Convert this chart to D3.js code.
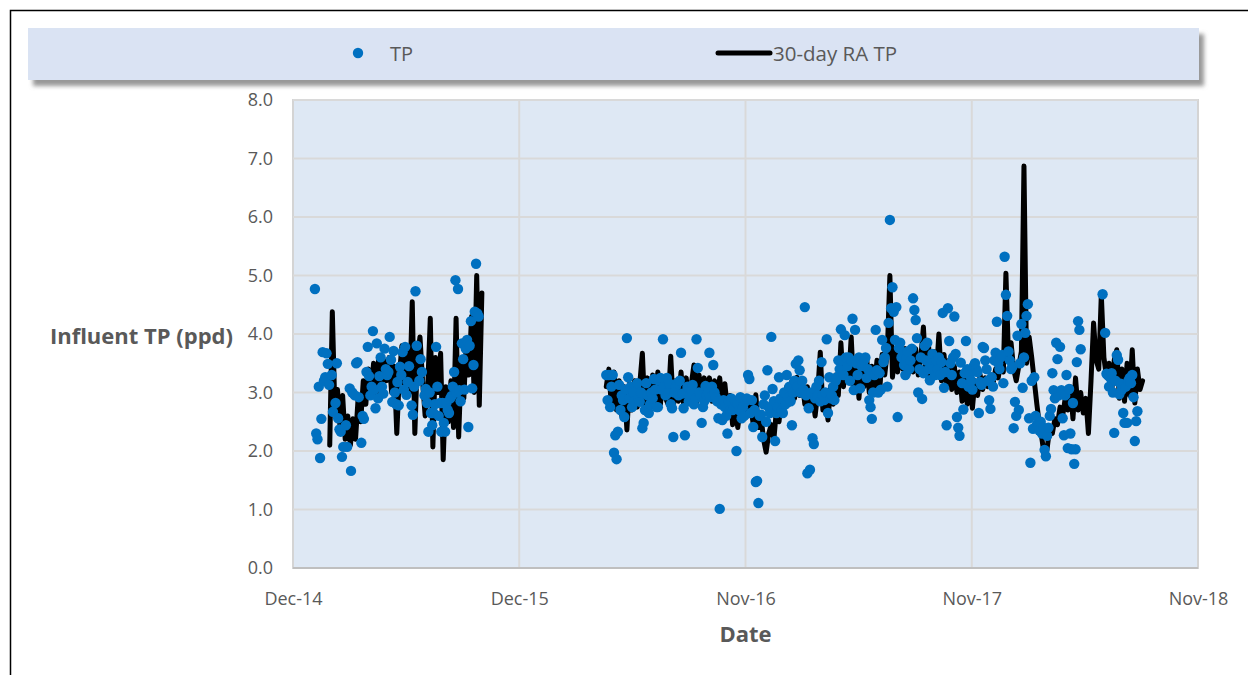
<!DOCTYPE html>
<head>
    <meta charset="utf-8">
    <script src="https://d3js.org/d3.v7.min.js"></script>
    <style>
        body {
            margin: 0;
            background: white;
        }
        text {
            font-family: "Open Sans", "Liberation Sans", sans-serif;
            fill: #595959;
        }
    </style>
</head>

<body>
<svg id="chart" width="1248" height="675"></svg>
<script>

    // daily TP readings, one value every 2 days (null = no sample)
    const tpStepDays = 2;
    const tpSeg1Start = "2015-01-31";
    const tpSeg1 = [
        4.77, 2.30, 2.20, 3.10, 1.88, 2.55, 3.69, 3.20, 3.26, 3.67, 3.49, 3.13, null, 3.30, 2.67, null, 2.82, 3.50, 2.56, 2.37,
        2.33, 1.90, 2.07, null, 2.44, 2.07, null, 3.07, 1.66, 3.00, null, 2.95, 3.50, 3.52, 2.92, null, 2.14, 2.60, 2.55, null,
        3.35, 3.78, 3.28, 2.95, 3.10, 4.05, 3.05, 2.73, 3.84, 2.90, 3.28, 3.60, 3.10, 2.98, 3.75, 3.40, 3.30, 3.35, 3.95, 3.56,
        2.84, 3.71, 3.00, 2.80, 3.18, 2.78, 3.44, 3.30, 3.69, 3.05, 3.78, 2.96, 3.18, 3.45, null, 2.78, 2.62, 3.10, 4.73, 3.80,
        null, 3.20, 3.57, 3.35, null, 2.95, 3.06, 2.82, 2.33, 3.00, 2.65, 2.44, 2.65, 2.80, 3.78, 3.10, 2.60, 2.82, 2.33, 2.82,
        2.48, 2.33, 2.82, 2.70, 2.65, 2.90, 2.94, 3.10, 3.35, 4.92, 3.00, 4.77, 3.04, 2.85, 3.84, 3.57, 3.05, 3.75, 3.90, 2.41,
        3.80, 4.22, 3.07, 3.47, 4.38, 5.20, 4.35, 4.30
    ];
    const tpSeg2Start = "2016-04-27";
    const tpSeg2 = [
        3.30, 2.87, 3.30, 2.75, 3.10, 3.30, 1.97, 2.27, 1.86, 2.33, 3.13, 2.70, 2.95, 2.87, 2.58, 3.05, 3.93, 3.26, 2.90, 3.10,
        2.75, 3.00, 2.85, 3.10, 3.16, 2.90, 2.84, 3.00, 2.39, 2.48, 2.70, 3.16, 2.95, 2.65, 2.80, 3.00, 2.90, 3.23, 3.05, 2.75,
        2.75, 3.20, 3.25, 3.05, 3.91, 3.10, 2.95, 3.25, 3.00, 3.15, 2.80, 2.73, 2.24, 3.00, 3.10, 3.16, 2.95, 3.20, 3.68, 2.98,
        2.73, 2.27, 3.00, 3.10, 2.85, 2.95, 3.05, 3.13, 2.80, 2.90, 3.91, 3.42, 3.00, 2.95, 2.48, 2.75, 2.85, 3.11, 2.95, 3.00,
        3.68, 2.92, 3.10, 3.47, 3.00, 2.92, 2.85, 2.56, 1.01, 2.80, 2.53, 2.87, 2.75, 2.60, 2.30, 2.85, 2.70, 2.90, 2.70, 2.75,
        2.85, 2.00, 2.80, 2.70, 2.92, 2.56, 2.75, 2.60, 2.85, 2.90, 3.30, 3.23, 2.65, 2.87, 2.41, 2.70, 1.47, 1.49, 1.11, 2.60,
        2.62, 2.24, 2.80, 2.95, 2.50, 3.38, 2.75, 2.65, 3.95, 3.06, 2.85, 2.17, 2.65, 2.75, 3.26, 2.90, 2.70, 2.65, 3.00, 2.80,
        3.30, 2.92, 3.10, 2.85, 2.44, 3.00, 3.20, 3.49, 3.10, 3.55, 3.38, 3.00, 3.20, 3.05, 4.46, 2.95, 1.62, 2.73, 1.68, 3.00,
        2.22, 2.12, 2.90, 3.10, 2.95, 3.20, 2.85, 3.52, 2.96, 2.87, 3.00, 3.91, 2.65, 3.26, 2.90, 2.95, 3.10, 2.87, 3.20, 3.26,
        3.55, 3.40, 4.08, 3.55, 3.30, 3.98, 3.60, 3.45, 3.60, 3.20, 3.55, 4.26, 3.04, 4.07, 3.50, 3.30, 3.60, 3.07, 3.45, 3.50,
        3.55, 3.60, 3.25, 3.40, 2.87, 2.75, 2.55, 3.00, 3.30, 4.07, 3.38, 3.00, 3.33, 3.05, 3.90, 3.52, 3.60, 3.76, 3.10, 4.19,
        5.95, 4.44, 4.80, 4.38, 3.90, 4.46, 2.58, 3.76, 3.85, 3.60, 3.69, 3.47, 3.30, 3.60, 3.70, 3.40, 3.55, 3.75, 4.61, 4.41,
        4.24, 3.93, 3.00, 3.40, 3.60, 2.89, 3.33, 3.80, 3.55, 3.85, 3.40, 3.21, 3.50, 3.66, 3.40, 3.30, 3.55, 3.40, 3.60, 3.30,
        3.52, 4.36, 3.08, 3.35, 2.44, 4.44, 3.88, 3.50, 3.30, 3.60, 4.30, 3.66, 2.58, 2.40, 2.26, 3.51, 3.16, 2.71, 3.33, 3.88,
        3.40, 3.10, 3.30, 3.20, 3.05, 3.45, 3.50, 3.40, 3.35, 2.65, 3.18, 3.13, 3.78, 3.76, 3.55, 3.40, 3.20, 2.87, 2.72, 3.26,
        3.10, 3.55, 3.68, 4.21, 3.50, 3.40, 3.60, 3.64, 3.16, 5.32, 4.67, 4.31, 3.70, 3.55, 3.40, 3.44, 2.39, 2.84, 2.60, 3.97,
        2.70, 3.50, 4.17, 3.08, 3.60, 4.02, 4.31, 4.51, 2.56, 1.80, 3.20, 2.38, 3.26, 2.60, 2.45, 2.46, 2.35, 2.50, 2.30, 2.40,
        2.02, 1.91, 2.26, 2.40, 2.60, 2.72, 3.33, 3.04, 2.90, 3.85, 3.57, 2.95, 3.78, 3.04, 2.56, 2.27, 2.95, 3.30, 2.05, 3.06,
        2.30, 2.03, 2.82, 1.78, 2.03, 3.52, 4.22, 4.07, 3.74, null, null, null, null, null, null, null, null, null, null, null,
        null, null, null, null, null, 4.68, null, 4.02, 3.32, 3.30, 3.10, 3.25, 3.33, 3.00, 2.31, 3.20, 3.64, 3.56, 2.97, 3.15,
        3.05, 2.65, 2.48, 3.10, 2.48, 3.20, 3.25, 3.16, 3.30, 2.92, 2.17, 2.51, 2.68
    ];

    // 30-day running average, one value every 4 days
    const raStepDays = 4;
    const raSeg1Start = "2015-02-23";
    const raSeg1 = [
        2.10, 4.38, 2.70, 3.05, 2.40, 2.95, 2.20, 2.60, 2.10, 2.55,
        2.20, 2.90, 2.50, 3.20, 2.80, 3.40, 3.00, 3.50, 2.95, 3.60,
        3.10, 3.55, 3.20, 3.60, 3.00, 3.45, 2.30, 3.30, 3.80, 3.10,
        3.75, 3.00, 4.55, 2.30, 3.60, 3.95, 3.20, 2.60, 3.10, 4.27,
        2.07, 3.60, 3.00, 3.67, 1.85, 3.10, 2.50, 3.20, 2.40, 4.27,
        2.24, 3.50, 2.90, 3.90, 3.30, 4.30, 3.00, 5.00, 2.78, 4.70
    ];
    const raSeg2Start = "2016-04-27";
    const raSeg2 = [
        3.10, 3.40, 2.75, 3.35, 2.70, 3.20, 2.60, 3.10, 2.36, 3.15,
        2.70, 3.20, 2.75, 3.15, 3.67, 2.65, 3.25, 2.80, 3.30, 2.85,
        3.35, 2.80, 3.25, 2.90, 2.80, 3.62, 2.75, 3.20, 2.85, 3.35,
        2.80, 3.25, 2.85, 3.15, 3.47, 2.80, 3.30, 2.90, 3.25, 2.95,
        3.25, 2.85, 3.20, 2.90, 3.25, 2.80, 3.15, 2.70, 2.95, 2.45,
        2.80, 2.40, 2.75, 2.55, 2.90, 2.60, 2.80, 2.45, 2.96, 2.40,
        2.60, 2.20, 1.98, 2.30, 2.45, 2.20, 2.70, 2.50, 2.92, 2.75,
        3.10, 2.80, 3.20, 2.90, 3.26, 2.95, 3.20, 2.80, 3.10, 2.70,
        2.95, 2.60, 3.00, 3.69, 2.70, 2.90, 2.53, 3.10, 2.80, 3.30,
        2.95, 3.85, 3.10, 3.50, 3.20, 3.95, 3.00, 3.45, 2.90, 3.50,
        3.10, 3.60, 3.00, 3.45, 3.10, 3.55, 3.00, 3.65, 3.30, 3.70,
        5.00, 3.26, 3.70, 3.35, 3.80, 3.40, 3.75, 3.30, 3.70, 3.35,
        3.75, 3.30, 3.60, 4.12, 3.30, 3.80, 3.25, 3.70, 3.30, 4.00,
        3.20, 3.65, 3.10, 3.55, 3.05, 3.45, 3.00, 3.35, 2.85, 3.25,
        2.80, 3.15, 2.73, 3.20, 2.95, 3.30, 3.05, 3.25, 3.10, 3.30,
        3.15, 3.40, 3.25, 3.50, 3.35, 5.04, 3.60, 3.85, 3.40, 3.20,
        3.45, 3.70, 6.87, 3.50, 3.95, 3.60, 3.20, 2.80, 2.45, 2.20,
        1.88, 2.05, 2.40, 2.30, 2.55, 2.45, 2.75, 2.60, 2.90, 2.70,
        3.10, 2.55, 3.25, 2.70, 3.00, 2.65, 2.90, 2.30, 3.20, 4.19,
        3.55, 3.40, 4.67, 3.60, 3.26, 3.50, 3.00, 3.55, 3.73, 2.90,
        3.40, 2.85, 3.50, 2.95, 3.73, 2.82, 3.40, 3.05, 3.20
    ];

    const xTickDates = ["2014-12-28", "2015-12-14", "2016-11-29", "2017-11-15", "2018-11-01"];
    const yTicks = [0, 1, 2, 3, 4, 5, 6, 7, 8];
    const legendLabels = ["TP", "30-day RA TP"];

    const plot = {left: 293, right: 1198, top: 100, bottom: 568};
    const parse = d3.utcParse("%Y-%m-%d");

    function toPoints(start, step, values) {
        let s = parse(start);
        return values.map(function (v, i) {
            return {date: d3.utcDay.offset(s, i * step), value: v};
        });
    }

    let tpPoints = toPoints(tpSeg1Start, tpStepDays, tpSeg1)
        .concat(toPoints(tpSeg2Start, tpStepDays, tpSeg2))
        .filter(function (d) { return d.value !== null; });
    let raSegments = [
        toPoints(raSeg1Start, raStepDays, raSeg1),
        toPoints(raSeg2Start, raStepDays, raSeg2)
    ];

    let tickDates = xTickDates.map(parse);

    let x = d3.scaleUtc()
        .domain([tickDates[0], tickDates[tickDates.length - 1]])
        .range([plot.left, plot.right]);

    let y = d3.scaleLinear()
        .domain([0, 8])
        .range([plot.bottom, plot.top]);

    let svg = d3.select("#chart");

    svg.append("rect")
        .attr("width", 1248).attr("height", 675)
        .attr("fill", "white");

    // chart frame (only top and left visible)
    svg.append("path")
        .attr("d", "M10.5,676 V10.5 H1250")
        .attr("fill", "none")
        .attr("stroke", "black")
        .attr("stroke-width", 1.5);

    let defs = svg.append("defs");
    defs.append("filter")
        .attr("id", "shadow")
        .attr("x", "-5%").attr("y", "-30%")
        .attr("width", "110%").attr("height", "170%")
        .append("feDropShadow")
        .attr("dx", 5).attr("dy", 6)
        .attr("stdDeviation", 2)
        .attr("flood-color", "#7f7f7f")
        .attr("flood-opacity", 0.8);

    // legend
    let legend = svg.append("g");
    legend.append("rect")
        .attr("x", 28).attr("y", 28)
        .attr("width", 1171).attr("height", 52)
        .attr("fill", "#dae3f3")
        .attr("filter", "url(#shadow)");

    legend.append("circle")
        .attr("cx", 358).attr("cy", 53).attr("r", 5.2)
        .attr("fill", "#0070c0");
    legend.append("text")
        .attr("x", 390).attr("y", 53)
        .attr("dominant-baseline", "central")
        .style("font-size", "20px")
        .text(legendLabels[0]);
    legend.append("line")
        .attr("x1", 718).attr("x2", 770)
        .attr("y1", 53).attr("y2", 53)
        .attr("stroke", "black")
        .attr("stroke-width", 5)
        .attr("stroke-linecap", "round");
    legend.append("text")
        .attr("x", 773).attr("y", 53)
        .attr("dominant-baseline", "central")
        .style("font-size", "20.5px")
        .text(legendLabels[1]);

    // plot area
    svg.append("rect")
        .attr("x", plot.left).attr("y", plot.top)
        .attr("width", plot.right - plot.left)
        .attr("height", plot.bottom - plot.top)
        .attr("fill", "#dee8f4")
        .attr("stroke", "#d4d4d4")
        .attr("stroke-width", 2);

    svg.append("g")
        .selectAll("line")
        .data(yTicks.slice(1))
        .enter()
        .append("line")
        .attr("x1", plot.left).attr("x2", plot.right)
        .attr("y1", function (d) { return y(d); })
        .attr("y2", function (d) { return y(d); })
        .attr("stroke", "#d9d9d9")
        .attr("stroke-width", 2);

    svg.append("g")
        .selectAll("line")
        .data(tickDates.slice(1, -1))
        .enter()
        .append("line")
        .attr("x1", function (d) { return x(d); })
        .attr("x2", function (d) { return x(d); })
        .attr("y1", plot.top).attr("y2", plot.bottom)
        .attr("stroke", "#d9d9d9")
        .attr("stroke-width", 2);

    // bottom axis line
    svg.append("line")
        .attr("x1", plot.left).attr("x2", plot.right)
        .attr("y1", plot.bottom).attr("y2", plot.bottom)
        .attr("stroke", "#bfbfbf")
        .attr("stroke-width", 2);

    let xAxis = d3.axisBottom(x)
        .tickValues(tickDates)
        .tickFormat(d3.utcFormat("%b-%y"))
        .tickSize(0)
        .tickPadding(24);

    let yAxis = d3.axisLeft(y)
        .tickValues(yTicks)
        .tickFormat(d3.format(".1f"))
        .tickSize(0)
        .tickPadding(20);

    let gx = svg.append("g")
        .attr("transform", "translate(0," + plot.bottom + ")")
        .call(xAxis);
    let gy = svg.append("g")
        .attr("transform", "translate(" + plot.left + ",0)")
        .call(yAxis);

    [gx, gy].forEach(function (g) {
        g.select(".domain").remove();
        g.selectAll("text")
            .attr("fill", "#595959")
            .style("font-family", "'Open Sans', sans-serif")
            .style("font-size", "18px");
    });

    // RA line
    let line = d3.line()
        .defined(function (d) { return d.value !== null; })
        .x(function (d) { return x(d.date); })
        .y(function (d) { return y(d.value); });

    svg.append("g")
        .selectAll("path")
        .data(raSegments)
        .enter()
        .append("path")
        .attr("d", line)
        .attr("fill", "none")
        .attr("stroke", "black")
        .attr("stroke-width", 5)
        .attr("stroke-linejoin", "round")
        .attr("stroke-linecap", "round");

    // TP dots
    svg.append("g")
        .selectAll("circle")
        .data(tpPoints)
        .enter()
        .append("circle")
        .attr("cx", function (d) { return x(d.date); })
        .attr("cy", function (d) { return y(d.value); })
        .attr("r", 5.2)
        .attr("fill", "#0070c0");

    // axis titles
    svg.append("text")
        .attr("x", 233).attr("y", 335)
        .attr("text-anchor", "end")
        .attr("dominant-baseline", "central")
        .style("font-size", "22px")
        .style("font-weight", "bold")
        .text("Influent TP (ppd)");

    svg.append("text")
        .attr("x", (plot.left + plot.right) / 2).attr("y", 633)
        .attr("text-anchor", "middle")
        .attr("dominant-baseline", "central")
        .style("font-size", "22px")
        .style("font-weight", "bold")
        .text("Date");

</script>

</body>
